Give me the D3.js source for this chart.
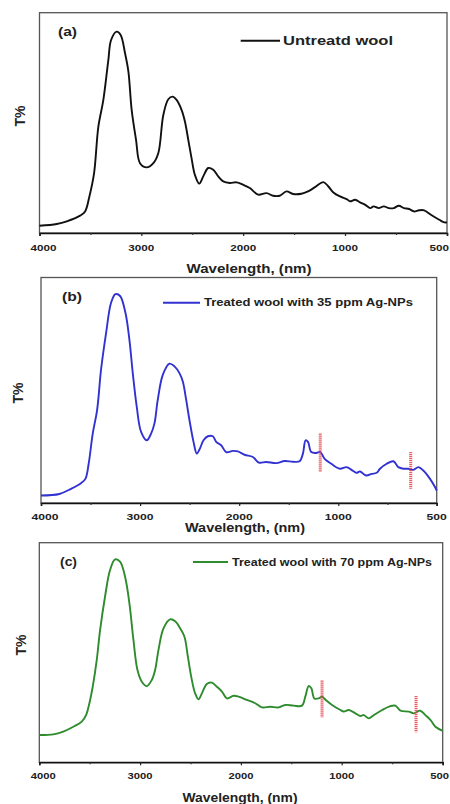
<!DOCTYPE html>
<html>
<head>
<meta charset="utf-8">
<script src="https://cdn.jsdelivr.net/npm/d3@7/dist/d3.min.js"></script>
<style>
  html, body { margin: 0; padding: 0; background: #fff; }
  svg { display: block; }
  text { font-family: "Liberation Sans", Arial, sans-serif; font-weight: bold; fill: #222; }
</style>
</head>
<body>
<svg id="chart" width="450" height="804"></svg>
<script>
// Spectra: wavenumber axis values and relative transmittance (T%)
const waveA = [4000,3830,3732,3601,3552,3510,3464,3422,3373,3324,3297,3242,3203,3160,3127,3095,3052,3013,2948,2882,2833,2784,2735,2693,2654,2605,2572,2539,2507,2474,2431,2392,2343,2294,2245,2196,2131,2065,2000,1935,1853,1771,1706,1641,1575,1510,1428,1363,1294,1212,1163,1114,1049,992,975,950,926,901,876,860,835,810,785,761,736,711,686,662,637,612,579,538,513,500];
const tA    = [3.3,4.1,5.3,7.9,9.8,16.6,27.2,48.3,60.4,78.5,87.6,91.4,89.9,81.6,73.3,55.9,42.3,31.7,29.8,31.7,36.3,53.6,60.7,61.9,60.4,55.9,50.6,42.3,34.0,26.4,22.4,25.7,29.5,28.7,25.7,23.4,22.7,23.0,21.9,20.4,17.4,18.1,16.9,16.9,18.9,17.7,17.8,18.9,20.8,23.1,21.1,18.4,16.6,15.4,14.4,15.1,13.9,12.8,11.3,12.1,11.3,12.1,11.3,11.3,12.4,11.3,10.9,9.8,10.3,10.3,8.3,6.0,4.8,4.8];

const waveB = [4000,3815,3697,3596,3552,3519,3478,3434,3394,3343,3293,3249,3202,3148,3108,3074,3034,2990,2933,2889,2855,2822,2771,2704,2653,2603,2569,2535,2502,2461,2428,2401,2360,2316,2266,2232,2182,2131,2064,2013,1946,1862,1801,1727,1626,1542,1458,1391,1357,1330,1306,1273,1222,1182,1138,1071,992,958,933,907,890,859,831,805,788,754,720,695,669,644,619,593,568,534,508,500];
const tB    = [3.3,4.0,6.3,8.8,10.7,17.4,30.8,41.2,59.1,75.4,88.8,92.6,91.8,84.4,72.5,57.6,42.7,31.5,27.8,30.8,35.3,45.7,56.8,61.8,60.6,57.6,53.9,45.7,36.8,27.1,21.9,23.7,27.8,29.6,29.6,27.1,25.6,22.6,23.1,22.9,21.4,20.4,17.9,18.2,17.7,18.6,18.3,18.5,21.9,27.8,27.1,22.6,22.2,22.6,19.6,17.4,15.2,15.9,14.7,13.4,14.0,12.2,12.9,13.4,15.2,17.4,18.5,15.9,15.2,15.2,14.7,15.9,14.4,10.7,7.0,5.5];

const waveC = [4000,3861,3762,3662,3579,3536,3503,3470,3430,3397,3348,3298,3248,3199,3149,3106,3066,3026,2983,2934,2884,2851,2818,2768,2702,2652,2603,2560,2526,2493,2454,2421,2387,2338,2288,2238,2188,2139,2073,2023,1940,1858,1791,1709,1626,1560,1477,1394,1361,1328,1301,1272,1228,1195,1152,1096,1013,990,965,932,907,891,866,841,800,759,734,709,668,644,611,586,561,536,500];
const tC    = [12.4,12.7,14.0,16.2,18.5,21.5,26.9,34.4,46.6,60.2,75.4,87.6,92.4,91.4,84.5,72.4,55.7,42.0,36.7,34.7,37.5,42.0,51.1,61.0,65.1,64.2,61.0,57.2,48.1,39.0,31.4,28.7,31.4,35.7,36.3,34.4,32.2,29.1,30.3,29.9,28.4,26.9,25.0,25.3,25.0,26.1,25.8,25.8,29.9,34.7,33.7,29.1,29.1,29.9,28.1,26.1,23.8,23.1,23.8,22.3,21.1,21.5,20.0,21.5,23.8,25.6,25.8,23.5,23.1,22.3,23.5,21.5,19.3,16.2,14.3];

// Break markers on the treated spectra: wavenumber, top and bottom in T%
const breakWaveB = [1182, 632];
const breakTopB  = [30.8, 22.6];
const breakBotB  = [13.7, 6.3];
const breakWaveC = [1195, 632];
const breakTopC  = [37.2, 30.2];
const breakBotC  = [20.5, 13.7];

// Axis ticks
const majorTicks = [4000, 3000, 2000, 1000, 500];
const minorTicks = [3500, 2500, 1500, 750];

const panelTags   = ["(a)", "(b)", "(c)"];
const legendTexts = ["Untreatd wool", "Treated wool with 35 ppm Ag-NPs", "Treated wool with 70 ppm Ag-NPs"];
const xTitle = "Wavelength, (nm)";
const yTitle = "T%";

const W = 450;
const svg = d3.select("#chart");

const panels = [
  { wave: waveA, t: tA, color: "#111111",
    left: 39.5, mid: 345, right: 447, top: 12.7, bottom: 233,
    tickY: 247.5, tickW: 26, titleX: 249, titleY: 268.5, titleW: 125,
    yTitleX: 20, yTitleY: 116,
    tag: { x: 58, y: 32, w: 19, fs: 12 },
    legend: { x1: 240.7, x2: 280, y: 40.7, tx: 283, tw: 110, fs: 13 },
    breaks: null },
  { wave: waveB, t: tB, color: "#3232d2",
    left: 41, mid: 338.3, right: 436.7, top: 277.5, bottom: 503,
    tickY: 517, tickW: 27, titleX: 245, titleY: 527.5, titleW: 120,
    yTitleX: 18, yTitleY: 393,
    tag: { x: 62, y: 297, w: 20, fs: 12 },
    legend: { x1: 163, x2: 200, y: 302.7, tx: 204, tw: 209, fs: 10 },
    breaks: { w: breakWaveB, top: breakTopB, bot: breakBotB } },
  { wave: waveC, t: tC, color: "#2e8b2e",
    left: 39.3, mid: 341.7, right: 442.7, top: 542.7, bottom: 762.3,
    tickY: 775.5, tickW: 25, titleX: 240, titleY: 797.5, titleW: 115,
    yTitleX: 21, yTitleY: 645,
    tag: { x: 60, y: 562, w: 17, fs: 12 },
    legend: { x1: 193, x2: 228, y: 562, tx: 232, tw: 200, fs: 10 },
    breaks: { w: breakWaveC, top: breakTopC, bot: breakBotC } }
];

panels.forEach((p, i) => {
  const g = svg.append("g");

  // Broken wavenumber scale: 4000-1000 linear, 1000-500 stretched
  const x = d3.scaleLinear().domain([4000, 1000, 500]).range([p.left, p.mid, p.right]);
  const y = d3.scaleLinear().domain([0, 100]).range([p.bottom, p.top]);

  // Frame
  g.append("rect")
    .attr("x", p.left).attr("y", p.top)
    .attr("width", p.right - p.left).attr("height", p.bottom - p.top)
    .attr("fill", "none").attr("stroke", "#555").attr("stroke-width", 1.3);

  // Bottom axis with major and minor ticks
  const axis = d3.axisBottom(x).tickValues(majorTicks).tickSize(3).tickFormat("");
  const ag = g.append("g").attr("transform", `translate(0,${p.bottom})`).call(axis);
  ag.select(".domain").attr("stroke", "#111").attr("stroke-width", 1.6);
  ag.selectAll(".tick line").attr("stroke", "#222").attr("stroke-width", 1.2);
  const minor = d3.axisBottom(x).tickValues(minorTicks).tickSize(2).tickFormat("");
  const mg = g.append("g").attr("transform", `translate(0,${p.bottom})`).call(minor);
  mg.select(".domain").remove();
  mg.selectAll(".tick line").attr("stroke", "#333").attr("stroke-width", 1.2);

  // Tick labels (the last one is kept inside the page edge)
  const labelW = d => d === 500 ? p.tickW * 0.75 : p.tickW;
  g.selectAll(".tl").data(majorTicks).enter().append("text")
    .attr("x", d => {
      const cx = x(d) + (d === 4000 ? 4 : 0);
      return Math.min(cx, W - 1 - labelW(d) / 2);
    })
    .attr("y", p.tickY)
    .attr("dy", "0.35em")
    .attr("text-anchor", "middle")
    .attr("font-size", 9)
    .attr("fill", "#333")
    .attr("textLength", labelW)
    .attr("lengthAdjust", "spacingAndGlyphs")
    .text(d => d);

  // Axis titles
  g.append("text")
    .attr("x", p.titleX - p.titleW / 2).attr("y", p.titleY).attr("dy", "0.35em")
    .attr("font-size", 12)
    .attr("textLength", p.titleW).attr("lengthAdjust", "spacingAndGlyphs")
    .text(xTitle);
  g.append("text")
    .attr("transform", `translate(${p.yTitleX},${p.yTitleY}) rotate(-90)`)
    .attr("text-anchor", "middle").attr("dy", "0.35em")
    .attr("font-size", 14)
    .text(yTitle);

  // Spectrum line
  const pts = p.wave.map((w, k) => [w, p.t[k]]);
  const line = d3.line().x(d => x(d[0])).y(d => y(d[1])).curve(d3.curveCatmullRom.alpha(0.5));
  g.append("path").datum(pts)
    .attr("d", line)
    .attr("fill", "none")
    .attr("stroke", p.color)
    .attr("stroke-width", 1.9)
    .attr("stroke-linejoin", "round");

  // Break markers
  if (p.breaks) {
    g.selectAll(".brk").data(p.breaks.w).enter().append("line")
      .attr("x1", d => x(d)).attr("x2", d => x(d))
      .attr("y1", (d, k) => y(p.breaks.top[k]))
      .attr("y2", (d, k) => y(p.breaks.bot[k]))
      .attr("stroke", "#e8404a")
      .attr("stroke-width", 3)
      .attr("stroke-dasharray", "1.2,0.8")
      .attr("opacity", 0.85);
  }

  // Panel tag
  g.append("text")
    .attr("x", p.tag.x).attr("y", p.tag.y).attr("dy", "0.35em")
    .attr("font-size", p.tag.fs)
    .attr("textLength", p.tag.w).attr("lengthAdjust", "spacingAndGlyphs")
    .text(panelTags[i]);

  // Legend
  g.append("line")
    .attr("x1", p.legend.x1).attr("x2", p.legend.x2)
    .attr("y1", p.legend.y).attr("y2", p.legend.y)
    .attr("stroke", p.color).attr("stroke-width", 1.9);
  g.append("text")
    .attr("x", p.legend.tx).attr("y", p.legend.y).attr("dy", "0.35em")
    .attr("font-size", p.legend.fs)
    .attr("textLength", p.legend.tw).attr("lengthAdjust", "spacingAndGlyphs")
    .text(legendTexts[i]);
});
</script>
</body>
</html>
